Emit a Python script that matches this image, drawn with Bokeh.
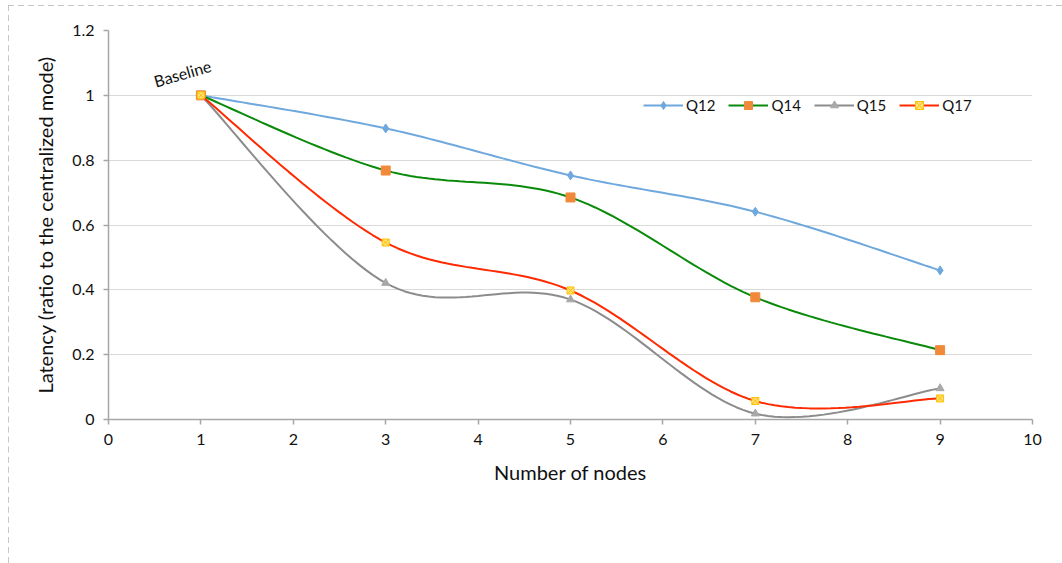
from bokeh.plotting import figure
from bokeh.models import FixedTicker, Legend, LegendItem
from bokeh.core.properties import value
from bokeh.embed import file_html
from bokeh.resources import INLINE

nodes = [1, 3, 5, 7, 9]
q12 = [1.0, 0.898, 0.753, 0.641, 0.460]
q14 = [1.0, 0.768, 0.685, 0.377, 0.214]
q15 = [1.0, 0.421, 0.370, 0.018, 0.096]
q17 = [1.0, 0.546, 0.398, 0.057, 0.065]
series_names = ["Q12", "Q14", "Q15", "Q17"]
y_ticks = [0, 0.2, 0.4, 0.6, 0.8, 1.0, 1.2]
y_tick_labels = ["0", "0.2", "0.4", "0.6", "0.8", "1", "1.2"]
x_ticks = list(range(0, 11))

FONT = "Lato"

p = figure(width=1054, height=558, output_backend="svg", toolbar_location=None,
           x_range=(0, 10), y_range=(0, 1.2),
           min_border_left=100, min_border_right=30, min_border_top=25, min_border_bottom=144)
p.styles = {"outline": "2px dashed #b4b4b4", "outline-offset": "-2px",
            "position": "relative", "left": "8px", "top": "5px"}
p.outline_line_color = None
p.background_fill_color = "white"
p.border_fill_color = "white"

p.xgrid.visible = False
p.ygrid.grid_line_color = "#d9d9d9"
p.ygrid.grid_line_width = 1

p.yaxis.ticker = FixedTicker(ticks=y_ticks)
p.yaxis.major_label_overrides = {t: l for t, l in zip(y_ticks, y_tick_labels)}
p.xaxis.ticker = FixedTicker(ticks=x_ticks)
for ax in (p.xaxis[0], p.yaxis[0]):
    ax.axis_line_color = "#a6a6a6"
    ax.axis_line_width = 1.5
    ax.major_tick_line_color = "#a6a6a6"
    ax.major_tick_line_width = 1.5
    ax.major_tick_in = 0
    ax.major_tick_out = 5
    ax.minor_tick_line_color = None
    ax.major_label_text_font = FONT
    ax.major_label_text_font_size = "16px"
    ax.major_label_text_color = "#111111"
    ax.axis_label_text_font = FONT
    ax.axis_label_text_font_size = "20px"
    ax.axis_label_text_font_style = "normal"
    ax.axis_label_text_color = "#111111"
p.xaxis.axis_label = "Number of nodes"
p.yaxis.axis_label = "Latency (ratio to the centralized mode)"
p.xaxis.major_label_standoff = 9
p.xaxis.axis_label_standoff = 12
p.yaxis.major_label_standoff = 9
p.yaxis.axis_label_standoff = 12


def smooth_curve(xs, ys, steps=30):
    """Excel-style smoothed line: cubic Bezier segments (Catmull-Rom control points)."""
    n = len(xs)
    out_x, out_y = [], []
    for i in range(n - 1):
        ip = max(i - 1, 0)
        inn = min(i + 2, n - 1)
        p0 = (xs[i], ys[i])
        p3 = (xs[i + 1], ys[i + 1])
        p1 = (xs[i] + (xs[i + 1] - xs[ip]) / 6, ys[i] + (ys[i + 1] - ys[ip]) / 6)
        p2 = (xs[i + 1] - (xs[inn] - xs[i]) / 6, ys[i + 1] - (ys[inn] - ys[i]) / 6)
        for k in range(steps + 1):
            if i > 0 and k == 0:
                continue
            t = k / steps
            a, b, c, d = (1 - t) ** 3, 3 * (1 - t) ** 2 * t, 3 * (1 - t) * t ** 2, t ** 3
            out_x.append(a * p0[0] + b * p1[0] + c * p2[0] + d * p3[0])
            out_y.append(a * p0[1] + b * p1[1] + c * p2[1] + d * p3[1])
    return out_x, out_y


styles = [
    (q12, "#6fa8dc", "diamond", 9, "#6fa8dc", "#6fa8dc"),
    (q14, "#0a8a0a", "square", 9, "#f08a3a", "#f08a3a"),
    (q15, "#8c8c8c", "triangle", 8, "#a8a8a8", "#a8a8a8"),
    (q17, "#ff2a00", "square_x", 7, "#ffe27a", "#ffc000"),
]

items = []
for name, (ys, lc, mk, ms, mf, ml) in zip(series_names, styles):
    cx, cy = smooth_curve(nodes, ys)
    lr = p.line(x=cx, y=cy, line_color=lc, line_width=2)
    sr = p.scatter(x=nodes, y=ys, marker=mk, size=ms, fill_color=mf, line_color=ml, line_width=1)
    items.append(LegendItem(label=name, renderers=[lr, sr]))

p.text(x=[0.8], y=[1.068], text=["Baseline"], angle=0.28, text_font=value(FONT),
       text_font_size="16px", text_color="#111111", text_align="center", text_baseline="middle")

legend = Legend(items=items, orientation="horizontal", location=(535, 304),
                background_fill_alpha=0, border_line_color=None, padding=0, margin=0,
                spacing=13, glyph_width=40, glyph_height=20, label_standoff=3,
                label_text_font=FONT, label_text_font_size="15px", label_text_color="#111111")
p.add_layout(legend, "center")

open("out.html", "w").write(file_html(p, INLINE))
